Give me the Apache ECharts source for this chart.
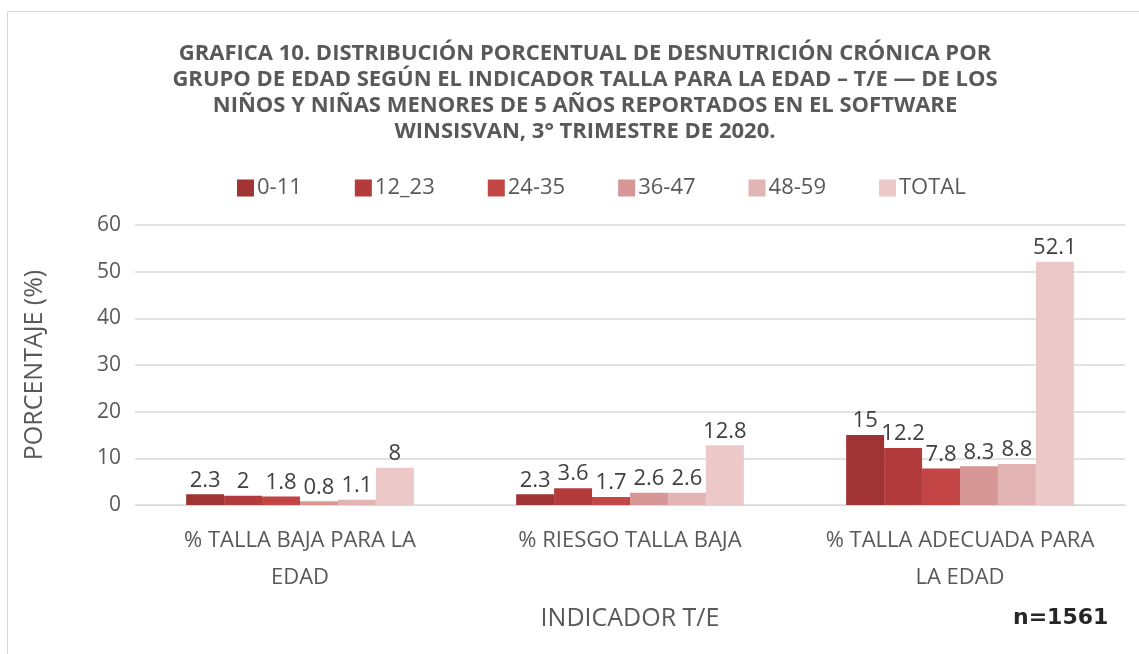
<!DOCTYPE html>
<html><head><meta charset="utf-8">
<script src="https://cdn.jsdelivr.net/npm/echarts@6/dist/echarts.min.js"></script>
<style>html,body{margin:0;padding:0;background:#fff}#c{width:1139px;height:654px}</style>
</head><body><div id="c"></div>
<script>
var categories = ['% TALLA BAJA PARA LA\nEDAD', '% RIESGO TALLA BAJA', '% TALLA ADECUADA PARA\nLA EDAD'];
var seriesNames = ['0-11', '12_23', '24-35', '36-47', '48-59', 'TOTAL'];
var v0_11 = [2.3, 2.3, 15];
var v12_23 = [2, 3.6, 12.2];
var v24_35 = [1.8, 1.7, 7.8];
var v36_47 = [0.8, 2.6, 8.3];
var v48_59 = [1.1, 2.6, 8.8];
var vTotal = [8, 12.8, 52.1];
var yTicks = [0, 10, 20, 30, 40, 50, 60];

var values = [v0_11, v12_23, v24_35, v36_47, v48_59, vTotal];
var colors = ['#a03333', '#b33b3b', '#c44545', '#d89797', '#e3b4b4', '#ecc8c8'];
var font = 'Open Sans';
var chart = echarts.init(document.getElementById('c'));
chart.setOption({
  animation: false,
  color: colors,
  title: {
    text: 'GRAFICA 10. DISTRIBUCIÓN PORCENTUAL DE DESNUTRICIÓN CRÓNICA POR\nGRUPO DE EDAD SEGÚN EL INDICADOR TALLA PARA LA EDAD – T/E — DE LOS\nNIÑOS Y NIÑAS MENORES DE 5 AÑOS REPORTADOS EN EL SOFTWARE\nWINSISVAN, 3° TRIMESTRE DE 2020.',
    left: 580, top: 36, textAlign: 'center',
    textStyle: {fontFamily: font, fontSize: 22, fontWeight: 'bold', color: '#595959', lineHeight: 26}
  },
  legend: {
    data: seriesNames, top: 172, left: 232,
    itemWidth: 17, itemHeight: 17, itemGap: 53,
    icon: 'rect',
    textStyle: {fontFamily: font, fontSize: 22, color: '#595959', padding: [0,0,0,-2]}
  },
  grid: {left: 135, right: 14, top: 225, bottom: 149},
  xAxis: {
    type: 'category', data: categories,
    name: 'INDICADOR T/E', nameLocation: 'middle', nameGap: 101,
    nameTextStyle: {fontFamily: font, fontSize: 25, color: '#595959'},
    axisLine: {lineStyle: {color: '#d9d9d9'}},
    axisTick: {show: false},
    axisLabel: {interval: 0, hideOverlap: false, fontFamily: font, fontSize: 22, color: '#595959', lineHeight: 37, margin: 17}
  },
  yAxis: {
    type: 'value', min: yTicks[0], max: yTicks[yTicks.length-1], interval: 10,
    name: 'PORCENTAJE (%)', nameLocation: 'middle', nameGap: 88,
    nameTextStyle: {fontFamily: font, fontSize: 25, color: '#595959'},
    axisLabel: {fontFamily: font, fontSize: 21, color: '#595959', margin: 14},
    splitLine: {lineStyle: {color: '#d9d9d9', width: 1.5}},
    axisLine: {show: false}, axisTick: {show: false}
  },
  series: seriesNames.map(function (n, i) {
    return {
      name: n, type: 'bar', data: values[i], barGap: '0%', barCategoryGap: '31%',
      label: {show: true, position: 'top', distance: 3, fontFamily: font, fontSize: 22, color: '#404040'}
    };
  }),
  graphic: [
    {type: 'rect', shape: {x: 7.5, y: 11.5, width: 1200, height: 700}, style: {fill: 'none', stroke: '#d9d9d9', lineWidth: 1}, silent: true},
    {type: 'text', left: 1013, top: 607, style: {text: 'n=1561', font: 'bold 22px "DejaVu Sans", sans-serif', fill: '#262626'}}
  ]
});
</script></body></html>
